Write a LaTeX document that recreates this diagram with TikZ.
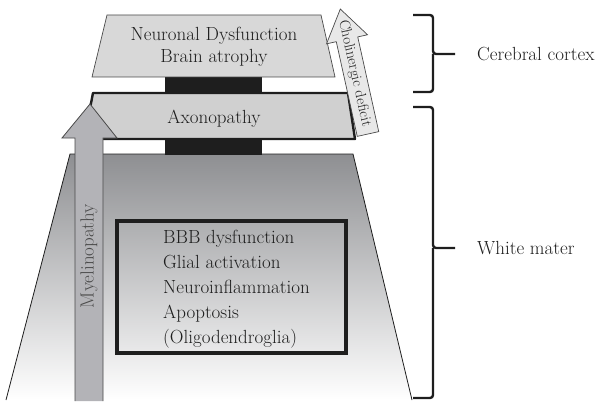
\documentclass[tikz,border=0pt]{standalone}
\usepackage{xcolor}
\usepackage{tikz}
\definecolor{topfill}{HTML}{D8D8D8}
\definecolor{axonfill}{HTML}{D0D0D0}
\definecolor{myelfill}{HTML}{B3B3B7}
\definecolor{cholfill}{HTML}{E8E8E8}
\definecolor{wmtop}{HTML}{8E8F92}
\definecolor{ink}{HTML}{1E1E1E}
\definecolor{gray3}{HTML}{4A4A4A}

\begin{document}
\begin{tikzpicture}[x=1pt, y=-1pt,
    lbl/.style={font=\fontsize{19}{22}\selectfont, text=ink, inner sep=0pt},
    bracket/.style={line width=2.4pt, ink, rounded corners=3pt}]
      \useasboundingbox (0,0) rectangle (612,401);
      % White matter: shaded trapezoid
      \shade[top color=wmtop, bottom color=white] (70,154) -- (353,154) -- (412,400) -- (6,400) -- cycle;
      \draw[ink, line width=0.8pt] (6,400) -- (70,154) -- (353,154) -- (412,400);
      % Black stems between the layers
      \fill[ink] (165,75) rectangle (262,94);
      \fill[ink] (165,138) rectangle (262,155);
      % Cerebral cortex layer
      \draw[gray3, fill=topfill, line width=0.7pt] (107,15) -- (321,15) -- (335,77) -- (92,77) -- cycle;
      \node[lbl, align=center] (neuro) at (214,47) {Neuronal Dysfunction\\Brain atrophy};
      % Axonopathy layer
      \draw[ink, fill=axonfill, line width=2.4pt, line join=round] (93,93) -- (348,93) -- (355,139) -- (84,139) -- cycle;
      \node[lbl] (axon) at (214,119) {Axonopathy};
      % Myelinopathy arrow
      \draw[gray3, fill=myelfill, line width=0.8pt] (75,401) -- (75,138) -- (62,138) -- (90,104) -- (117,138) -- (103,138) -- (103,401);
      \node[lbl, rotate=90, text=gray3] (myel) at (89,256) {Myelinopathy};
      % Inner box with the white matter changes
      \draw[ink, line width=4.5pt] (117,221) rectangle (346,353);
      \node[lbl, font=\fontsize{19}{25}\selectfont, align=left, anchor=west] (cells) at (163,289)
        {BBB dysfunction\\Glial activation\\Neuroinflammation\\Apoptosis\\(Oligodendroglia)};
      % Cholinergic deficit arrow
      \begin{scope}[shift={(368,134)}, rotate=12.5]
        \draw[gray3, fill=cholfill, line width=0.7pt] (-11,0) -- (11,0) -- (11,-97) -- (21,-97) -- (0,-128) -- (-21,-97) -- (-11,-97) -- cycle;
        \node[font=\fontsize{15}{15}\selectfont, text=ink, rotate=-77.5, inner sep=0pt] (chol) at (0,-62) {Cholinergic deficit};
      \end{scope}
      % Braces
      \draw[bracket] (413,15) -| (433,54) -- (455,54);
      \draw[bracket] (433,54) |- (413,92);
      \node[lbl, anchor=west] (cortex) at (477,54) {Cerebral cortex};
      \draw[bracket] (413,107) -| (433,248) -- (455,248);
      \draw[bracket] (433,248) |- (413,398);
      \node[lbl, anchor=west] (wm) at (477,248) {White mater};
    \end{tikzpicture}
\end{document}
